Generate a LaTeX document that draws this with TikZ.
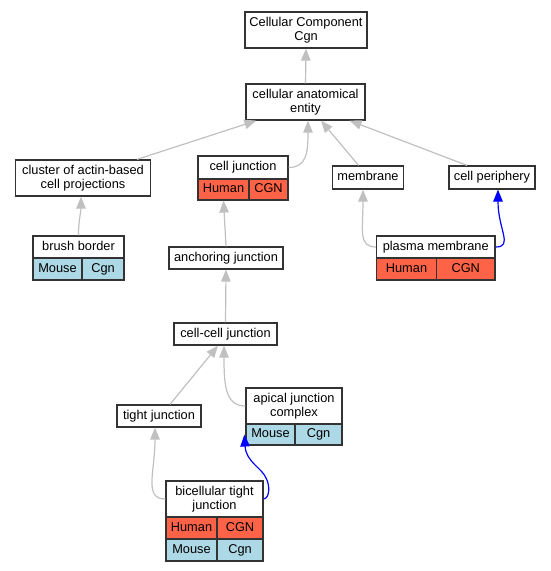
\documentclass[tikz,border=0pt]{standalone}
\usepackage{fontspec}
\setmainfont{Liberation Sans}
\usetikzlibrary{arrows.meta,calc}
\definecolor{tomatoc}{HTML}{FF6347}
\definecolor{lblue}{HTML}{ADD8E6}
\definecolor{edgegray}{HTML}{C0C0C0}
\definecolor{bordc}{HTML}{333333}
\tikzset{
  box/.style={draw=bordc, line width=1.2pt, fill=white, inner sep=0pt, align=center,
    font=\fontsize{12.8}{13.4}\selectfont},
  onebox/.style={box, text height=9.3pt, text depth=2.7pt},
  human/.style={onebox, fill=tomatoc},
  mouse/.style={onebox, fill=lblue},
  edge/.style={draw=edgegray, line width=1.2pt, -{Triangle[length=12pt,width=9.5pt]}},
  bedge/.style={edge, draw=blue}
}
\begin{document}
\begin{tikzpicture}[x=1pt,y=-1pt]
\useasboundingbox (0,0) rectangle (551,571);
% nodes
\node[box, minimum width=122pt, minimum height=36pt] (cc) at (306,30) {Cellular Component\\Cgn};
\node[box, minimum width=119pt, minimum height=36pt] (cae) at (305.5,102) {cellular anatomical\\entity};
\node[box, minimum width=135pt, minimum height=36pt] (cluster) at (83,178) {cluster of actin-based\\cell projections};
\node[onebox, minimum width=90pt, minimum height=23pt] (cellj) at (243,167.5) {cell junction};
\node[human, minimum width=51pt, minimum height=21pt] (cjh) at (223.5,189.5) {Human};
\node[human, minimum width=39pt, minimum height=21pt] (cjg) at (268.5,189.5) {CGN};
\node[onebox, minimum width=70.5pt, minimum height=23pt] (membrane) at (368,177.5) {membrane};
\node[onebox, minimum width=86pt, minimum height=23pt] (periph) at (492,177.5) {cell periphery};
\node[onebox, minimum width=91pt, minimum height=22pt] (brush) at (78.5,247) {brush border};
\node[mouse, minimum width=49pt, minimum height=22pt] (bm) at (57.5,269) {Mouse};
\node[mouse, minimum width=42pt, minimum height=22pt] (bg) at (103,269) {Cgn};
\node[onebox, minimum width=114pt, minimum height=22pt] (anch) at (226,258) {anchoring junction};
\node[onebox, minimum width=118.5pt, minimum height=22pt] (plasma) at (435.75,247) {plasma membrane};
\node[human, minimum width=60pt, minimum height=22pt] (ph) at (406.5,269) {Human};
\node[human, minimum width=58.5pt, minimum height=22pt] (pg) at (465.75,269) {CGN};
\node[onebox, minimum width=103pt, minimum height=22pt] (cellcell) at (225.5,334) {cell-cell junction};
\node[onebox, minimum width=84pt, minimum height=22pt] (tight) at (159,416) {tight junction};
\node[box, minimum width=96pt, minimum height=36pt] (apical) at (294,406) {apical junction\\complex};
\node[mouse, minimum width=49pt, minimum height=21pt] (am) at (270.5,434.5) {Mouse};
\node[mouse, minimum width=47pt, minimum height=21pt] (ag) at (318.5,434.5) {Cgn};
\node[box, minimum width=97pt, minimum height=36pt] (bicell) at (214.5,499) {bicellular tight\\junction};
\node[human, minimum width=51pt, minimum height=22pt] (bch) at (191.5,528) {Human};
\node[human, minimum width=46pt, minimum height=22pt] (bcg) at (240,528) {CGN};
\node[mouse, minimum width=51pt, minimum height=22pt] (bcm) at (191.5,550) {Mouse};
\node[mouse, minimum width=46pt, minimum height=22pt] (bcc) at (240,550) {Cgn};
% edges
\draw[edge] (cae.north) -- (cc.south);
\draw[edge] ($(cluster.north)+(54,0)$) -- ($(cae.south west)+(11,0)$);
\draw[edge] (cellj.east) .. controls +(18,0) and +(0,32) .. ($(cae.south)+(2.5,0)$);
\draw[edge] ($(membrane.north)+(-9.5,0)$) -- ($(cae.south)+(15.5,0)$);
\draw[edge] ($(periph.north)+(-25,0)$) -- ($(cae.south east)+(-16,0)$);
\draw[edge] (brush.north) .. controls +(0,-15) and +(0,15) .. ($(cluster.south)+(-2,0)$);
\draw[edge] (anch.north) -- (cjh.south);
\draw[edge] (plasma.west) .. controls +(-18,0) and +(0,40) .. ($(membrane.south)+(-5,0)$);
\draw[bedge] (plasma.east) .. controls +(18,0) and +(0,40) .. ($(periph.south)+(6,0)$);
\draw[edge] (cellcell.north) -- (anch.south);
\draw[edge] ($(tight.north)+(11,0)$) -- ($(cellcell.south)+(-7.5,0)$);
\draw[edge] (apical.west) .. controls +(-20,0) and +(0,40) .. ($(cellcell.south)+(-1.5,0)$);
\draw[edge] (bicell.west) .. controls +(-22,0) and +(0,45) .. ($(tight.south)+(-4,0)$);
\draw[bedge] (bicell.east) .. controls (270,498) and (270,485) .. (266,478) .. controls (262,468) and (246,462) .. ($(am.west)+(-1,0)$);
\end{tikzpicture}
\end{document}
